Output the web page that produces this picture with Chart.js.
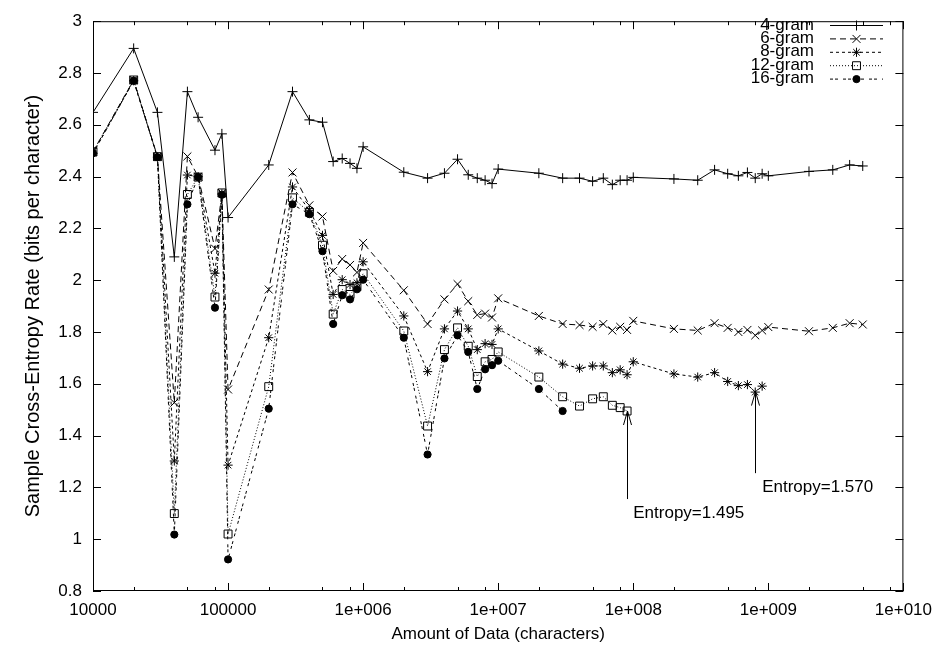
<!DOCTYPE html>
<html><head><meta charset="utf-8">
<script src="https://cdn.jsdelivr.net/npm/chart.js@4.4.0/dist/chart.umd.min.js"></script>
<style>html,body{margin:0;padding:0;background:#fff;}canvas{display:block;}</style>
</head><body>
<canvas id="c" width="941" height="649" style="width:941px;height:649px"></canvas>
<script>
// ---- data ----
const amounts = [1e4,2e4,3e4,4e4,5e4,6e4,8e4,9e4,
  1e5,2e5,3e5,4e5,5e5,6e5,7e5,8e5,9e5,
  1e6,2e6,3e6,4e6,5e6,6e6,7e6,8e6,9e6,
  1e7,2e7,3e7,4e7,5e7,6e7,7e7,8e7,9e7,
  1e8,2e8,3e8,4e8,5e8,6e8,7e8,8e8,9e8,
  1e9,2e9,3e9,4e9,5e9];
const gram4 = [2.648,2.895,2.648,2.090,2.728,2.629,2.502,2.565,
  2.242,2.445,2.728,2.619,2.610,2.458,2.470,2.451,2.432,
  2.515,2.417,2.394,2.413,2.467,2.407,2.394,2.386,2.373,
  2.429,2.413,2.394,2.394,2.382,2.394,2.369,2.386,2.386,
  2.397,2.391,2.386,2.426,2.411,2.403,2.416,2.394,2.411,
  2.403,2.420,2.426,2.445,2.441];
const gram6 = [2.496,2.773,2.477,1.527,2.478,2.400,2.122,2.337,
  1.578,1.964,2.416,2.289,2.246,2.036,2.082,2.059,2.030,
  2.144,1.961,1.831,1.926,1.985,1.919,1.866,1.871,1.856,
  1.930,1.862,1.831,1.827,1.820,1.831,1.806,1.820,1.808,
  1.843,1.812,1.806,1.834,1.816,1.800,1.808,1.787,1.806,
  1.819,1.803,1.816,1.834,1.829];
const gram8 = [2.490,2.770,2.475,1.302,2.406,2.400,2.027,2.333,
  1.286,1.778,2.360,2.270,2.173,1.945,2.002,1.983,1.990,
  2.071,1.862,1.647,1.812,1.881,1.812,1.732,1.755,1.752,
  1.812,1.727,1.676,1.660,1.669,1.669,1.643,1.654,1.635,
  1.685,1.638,1.626,1.643,1.609,1.593,1.597,1.568,1.591];
const gram12 = [2.496,2.773,2.477,1.099,2.331,2.398,1.935,2.337,
  1.020,1.589,2.318,2.262,2.135,1.869,1.964,1.945,1.975,
  2.025,1.804,1.437,1.732,1.816,1.745,1.628,1.685,1.694,
  1.723,1.626,1.550,1.514,1.542,1.550,1.517,1.508,1.495];
const gram16 = [2.490,2.770,2.475,1.018,2.293,2.398,1.894,2.330,
  0.922,1.504,2.293,2.255,2.112,1.831,1.942,1.926,1.965,
  2.002,1.778,1.327,1.698,1.787,1.723,1.580,1.656,1.672,
  1.689,1.580,1.495];
const seriesNames = ['4-gram','6-gram','8-gram','12-gram','16-gram'];
const xMajorTicks = [1e4,1e5,1e6,1e7,1e8,1e9,1e10];
const xTickLabels = ['10000','100000','1e+006','1e+007','1e+008','1e+009','1e+010'];
const yTickValues = [0.8,1,1.2,1.4,1.6,1.8,2,2.2,2.4,2.6,2.8,3];
const annotations = [
  {x:9e7, from:1.155, to:1.495, labelX:1e8, labelY:1.1, text:'Entropy=1.495'},
  {x:8e8, from:1.255, to:1.570, labelX:9e8, labelY:1.2, text:'Entropy=1.570'}
];

// ---- styles ----
const FONT_FAMILY = '"Liberation Sans", Arial, Helvetica, sans-serif';
const FONT_SIZE = 17;
const YTITLE_SIZE = 20;
const styles = [
  {dash:[], pt:'cross', r:5, fill:false},
  {dash:[6,4], pt:'crossRot', r:5.6, fill:false},
  {dash:[3,3], pt:'star', r:4.6, fill:false},
  {dash:[1,2], pt:'rect', r:5.6, fill:false},
  {dash:[3,2,3,5], pt:'circle', r:3.6, fill:true}
];
const allSeries = [gram4, gram6, gram8, gram12, gram16];

const minorMults = [2,5,8];
const xMinorTicks = [];
for (let e = 4; e < 10; e++) for (const m of minorMults) xMinorTicks.push(m * Math.pow(10, e));

const datasets = allSeries.map((vals, i) => ({
  label: seriesNames[i],
  data: vals.map((v, j) => ({x: amounts[j], y: v})),
  borderColor: '#000',
  borderWidth: 1,
  borderDash: styles[i].dash,
  tension: 0,
  fill: false,
  pointStyle: styles[i].pt,
  pointRadius: styles[i].r,
  pointHoverRadius: styles[i].r,
  pointBorderColor: '#000',
  pointBorderWidth: 1,
  pointBackgroundColor: styles[i].fill ? '#000' : 'rgba(0,0,0,0)',
  order: 4 - i
}));

function drawMarker(ctx, style, r, x, y) {
  ctx.save();
  ctx.setLineDash([]);
  ctx.lineWidth = 1;
  ctx.strokeStyle = '#000';
  ctx.fillStyle = '#000';
  ctx.beginPath();
  const d = r * Math.SQRT1_2;
  if (style === 'cross' || style === 'star') {
    ctx.moveTo(x - r, y); ctx.lineTo(x + r, y);
    ctx.moveTo(x, y - r); ctx.lineTo(x, y + r);
  }
  if (style === 'crossRot' || style === 'star') {
    ctx.moveTo(x - d, y - d); ctx.lineTo(x + d, y + d);
    ctx.moveTo(x - d, y + d); ctx.lineTo(x + d, y - d);
  }
  if (style === 'rect') {
    ctx.rect(x - d, y - d, 2 * d, 2 * d);
  }
  if (style === 'circle') {
    ctx.arc(x, y, r, 0, Math.PI * 2);
    ctx.fill();
  }
  ctx.stroke();
  ctx.restore();
}

const gnuplotFrame = {
  id: 'gnuplotFrame',
  afterDraw(chart) {
    const {ctx, chartArea: a, scales: {x, y}} = chart;
    ctx.save();
    ctx.strokeStyle = '#000';
    ctx.lineWidth = 1;
    ctx.setLineDash([]);
    ctx.strokeRect(a.left + 0.5, a.top + 0.5, a.right - a.left - 1, a.bottom - a.top - 1);
    ctx.beginPath();
    for (const v of yTickValues) {
      const py = Math.round(y.getPixelForValue(v)) + 0.5;
      ctx.moveTo(a.left, py); ctx.lineTo(a.left + 8, py);
      ctx.moveTo(a.right, py); ctx.lineTo(a.right - 8, py);
    }
    for (const v of xMajorTicks) {
      const px = Math.round(x.getPixelForValue(v)) + 0.5;
      ctx.moveTo(px, a.bottom); ctx.lineTo(px, a.bottom - 8);
      ctx.moveTo(px, a.top); ctx.lineTo(px, a.top + 8);
    }
    for (const v of xMinorTicks) {
      const px = Math.round(x.getPixelForValue(v)) + 0.5;
      ctx.moveTo(px, a.bottom); ctx.lineTo(px, a.bottom - 4);
      ctx.moveTo(px, a.top); ctx.lineTo(px, a.top + 4);
    }
    ctx.stroke();

    // axis titles
    ctx.fillStyle = '#000';
    ctx.font = FONT_SIZE + 'px ' + FONT_FAMILY;
    ctx.textAlign = 'center';
    ctx.textBaseline = 'middle';
    ctx.fillText('Amount of Data (characters)', (a.left + a.right) / 2, 634);
    ctx.save();
    ctx.font = YTITLE_SIZE + 'px ' + FONT_FAMILY;
    ctx.translate(33, (a.top + a.bottom) / 2);
    ctx.rotate(-Math.PI / 2);
    ctx.fillText('Sample Cross-Entropy Rate (bits per character)', 0, 0);
    ctx.restore();

    // annotations (arrows + labels)
    for (const an of annotations) {
      const px = Math.round(x.getPixelForValue(an.x)) + 0.5;
      const p0 = y.getPixelForValue(an.from);
      const p1 = y.getPixelForValue(an.to);
      ctx.beginPath();
      ctx.moveTo(px, p0); ctx.lineTo(px, p1);
      ctx.moveTo(px - 4, p1 + 14); ctx.lineTo(px, p1); ctx.lineTo(px + 4, p1 + 14);
      ctx.stroke();
      ctx.textAlign = 'left';
      ctx.fillText(an.text, x.getPixelForValue(an.labelX), y.getPixelForValue(an.labelY));
    }

    // legend
    ctx.textAlign = 'right';
    for (let i = 0; i < seriesNames.length; i++) {
      const ry = 25 + i * 13.4;
      ctx.fillText(seriesNames[i], 814, ry);
      ctx.beginPath();
      ctx.setLineDash(styles[i].dash);
      ctx.moveTo(830, ry + 0.5); ctx.lineTo(883, ry + 0.5);
      ctx.stroke();
      ctx.setLineDash([]);
      drawMarker(ctx, styles[i].pt, styles[i].r, 856.5, ry + 0.5);
    }
    ctx.restore();
  }
};

Chart.defaults.font.family = FONT_FAMILY;
Chart.defaults.font.size = FONT_SIZE;
Chart.defaults.color = '#000';

new Chart(document.getElementById('c'), {
  type: 'line',
  data: {datasets},
  options: {
    responsive: false,
    animation: false,
    devicePixelRatio: 1,
    layout: {padding: {left: 0, right: 37, top: 12, bottom: 0}},
    plugins: {legend: {display: false}, tooltip: {enabled: false}},
    scales: {
      x: {
        type: 'logarithmic',
        min: 1e4, max: 1e10,
        grid: {display: false, drawTicks: false},
        border: {display: false},
        afterBuildTicks: (s) => { s.ticks = xMajorTicks.map(v => ({value: v})); },
        afterFit: (s) => { s.height = 58; },
        ticks: {
          autoSkip: false, maxRotation: 0, minRotation: 0, padding: 9, color: '#000',
          callback: (v) => { const k = xMajorTicks.indexOf(v); return k >= 0 ? xTickLabels[k] : ''; }
        }
      },
      y: {
        type: 'linear',
        min: 0.8, max: 3,
        grid: {display: false, drawTicks: false},
        border: {display: false},
        afterBuildTicks: (s) => { s.ticks = yTickValues.map(v => ({value: v})); },
        afterFit: (s) => { s.width = 93; },
        ticks: {
          padding: 11, color: '#000',
          callback: (v) => String(Math.round(v * 10) / 10)
        }
      }
    }
  },
  plugins: [gnuplotFrame]
});
</script>
</body></html>
